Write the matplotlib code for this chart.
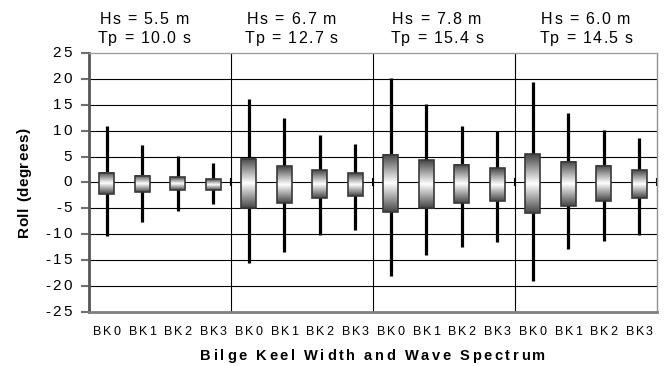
import numpy as np
import matplotlib
matplotlib.use("Agg")
import matplotlib.pyplot as plt
from matplotlib.colors import LinearSegmentedColormap
from matplotlib.patches import Rectangle
from matplotlib.transforms import offset_copy
from matplotlib.font_manager import FontProperties, findfont
from matplotlib.ft2font import FT2Font

plt.rcParams['font.family'] = ['Liberation Sans', 'DejaVu Sans']
plt.rcParams['axes.unicode_minus'] = False

# data
keels = ['BK0', 'BK1', 'BK2', 'BK3']
wave_hs = [5.5, 6.7, 7.8, 6.0]
wave_tp = [10.0, 12.7, 15.4, 14.5]
roll_max = [11.0, 7.3, 5.2, 3.7, 16.1, 12.4, 9.2, 7.5,
            20.3, 15.1, 11.0, 9.9, 19.4, 13.4, 10.1, 8.6]
roll_min = [-10.3, -7.7, -5.6, -4.1, -15.5, -13.5, -10.1, -9.2,
            -18.0, -14.1, -12.4, -11.5, -19.0, -12.9, -11.4, -10.2]
box_top = [1.9, 1.2, 1.0, 0.7, 4.6, 3.2, 2.4, 1.8,
           5.4, 4.3, 3.4, 2.8, 5.5, 4.0, 3.2, 2.4]
box_bot = [-2.3, -1.9, -1.5, -1.4, -5.0, -3.9, -3.0, -2.6,
           -5.8, -4.9, -4.0, -3.5, -5.9, -4.6, -3.6, -3.0]
y_ticks = list(range(-25, 30, 5))

labels = keels * len(wave_hs)
n = len(labels)
x = np.arange(n)
box_w = 0.41
DPI = 100


def _advances(s, size, weight):
  prop = FontProperties(family='Liberation Sans', weight=weight, size=size)
  font = FT2Font(findfont(prop))
  font.set_size(size, DPI)
  return [font.load_char(ord(c)).linearHoriAdvance / 65536 for c in s]


def spaced_text(ax, xv, yv, s, base, dx=0, dy=0, size=10, weight='normal',
                track=0, ha='center', vertical=False):
  # Excel-style wide lettering: place glyphs one by one
  adv = _advances(s, size, weight)
  total = sum(adv) + track * (len(s) - 1)
  pos = {'center': -total / 2, 'right': -total, 'left': 0}[ha]
  for ch, a in zip(s, adv):
    ox, oy = (dx, dy + pos) if vertical else (dx + pos, dy)
    tr = offset_copy(base, fig=ax.figure, x=ox, y=oy, units='dots')
    ax.text(xv, yv, ch, transform=tr, fontsize=size, fontweight=weight,
            ha='left', va='center', rotation=90 if vertical else 0,
            rotation_mode='anchor', clip_on=False)
    pos += a + track


fig = plt.figure(figsize=(6.68, 3.66), dpi=DPI)
ax = fig.add_axes([0.1332, 0.1484, 0.8503, 0.706])

# grid + group separators
for yv in y_ticks[1:-1]:
  ax.axhline(yv, color='black', lw=0.8, zorder=1)
for gi in range(1, len(wave_hs)):
  ax.axvline(gi * len(keels) - 0.5, color='black', lw=0.8, zorder=1)
ax.plot([gi * len(keels) - 0.5 for gi in range(1, len(wave_hs) + 1)],
        [0] * len(wave_hs), ls='none', marker='|', ms=6, mew=1.5,
        color='black', zorder=2, clip_on=False)

# whiskers
ax.vlines(x, roll_min, roll_max, color='black', lw=2.3, zorder=3)

# gradient boxes
cmap = LinearSegmentedColormap.from_list('bx', ['#454545', '#ffffff', '#454545'])
grad = np.linspace(0, 1, 256).reshape(-1, 1)
for xi, lo, hi in zip(x, box_bot, box_top):
  ax.imshow(grad, cmap=cmap, aspect='auto', interpolation='bilinear',
            extent=[xi - box_w / 2, xi + box_w / 2, lo, hi], zorder=4)
  ax.add_patch(Rectangle((xi - box_w / 2, lo), box_w, hi - lo, fill=False,
                         edgecolor='#3a3a3a', lw=1.2, zorder=5))
ax.set_xlim(-0.5, n - 0.5)
ax.set_ylim(-25, 25)

# axes styling
ax.spines['left'].set_color('#555555')
ax.spines['left'].set_linewidth(2)
ax.spines['bottom'].set_color('#808080')
ax.spines['bottom'].set_linewidth(2)
ax.spines['top'].set_color('#a0a0a0')
ax.spines['right'].set_color('#909090')
ax.spines['top'].set_linewidth(1)
ax.spines['right'].set_linewidth(1)

ax.set_yticks(y_ticks)
ax.tick_params(axis='y', direction='out', length=6, width=1.5,
               color='#707070', labelleft=False)
ax.set_xticks(x)
ax.tick_params(axis='x', length=0, labelbottom=False)

# tick labels, axis titles (wide lettering like the original)
ytr = ax.get_yaxis_transform()
for v in y_ticks:
  spaced_text(ax, 0, v, f"{v:d}", ytr, dx=-17, size=11, track=2.3, ha='right')
xtr = ax.get_xaxis_transform()
for xi, lab in zip(x, labels):
  spaced_text(ax, xi, 0, lab, xtr, dy=-20, size=9, track=1.5)
spaced_text(ax, 0.5, 0, 'Bilge Keel Width and Wave Spectrum', ax.transAxes,
            dy=-44, size=10.5, weight='bold', track=2.6)
spaced_text(ax, 0, 0.5, 'Roll (degrees)', ax.transAxes, dx=-65, size=11,
            weight='bold', track=0.6, vertical=True)

# wave condition headers
head_off = [-0.45, -0.3, -0.2, 0.0]
for gi, (hs, tp) in enumerate(zip(wave_hs, wave_tp)):
  cx = gi * len(keels) + 1.5 + head_off[gi]
  spaced_text(ax, cx, 1, f"Hs = {hs:.1f} m", xtr, dy=34, size=11.5, track=1.3)
  spaced_text(ax, cx, 1, f"Tp = {tp:.1f} s", xtr, dy=15, size=11.5, track=1.3)

fig.savefig('out.png', dpi=DPI)
